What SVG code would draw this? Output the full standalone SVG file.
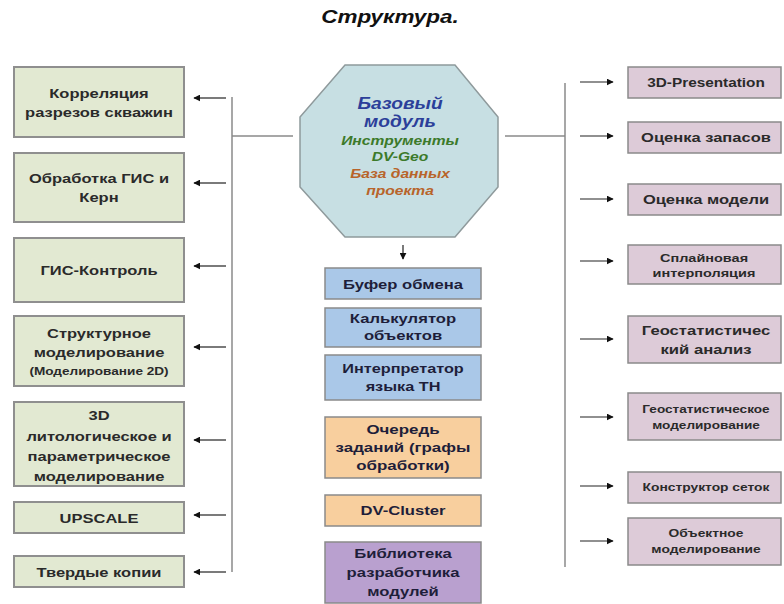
<svg xmlns="http://www.w3.org/2000/svg" width="784" height="604" viewBox="0 0 784 604">
<defs>
<marker id="ah" viewBox="0 0 10 10" refX="9" refY="5" markerWidth="7" markerHeight="7" orient="auto" markerUnits="userSpaceOnUse">
<path d="M0,0 L10,5 L0,10 z" fill="#111"/>
</marker>
<style>
text{font-family:"Liberation Sans",Arial,sans-serif;font-weight:bold;text-anchor:middle;fill:#2a2a2a}
.g rect{fill:#e2e9d2;stroke:#8f8f8f;stroke-width:2}
.b rect{fill:#aac8e8;stroke:#8a8a8a;stroke-width:1.5}
.o rect{fill:#f8cf9e;stroke:#8a8a8a;stroke-width:1.5}
.p rect{fill:#b9a0cf;stroke:#8a8a8a;stroke-width:1.5}
.r rect{fill:#ddcbd8;stroke:#8a8a8a;stroke-width:1.5}
.ln{stroke:#8a8a8a;stroke-width:1.5;fill:none}
.ar{stroke:#222;stroke-width:1.2;fill:none;marker-end:url(#ah)}
.l{font-size:13px}
.m{font-size:13px;fill:#1e1e3a}
.rs{font-size:13px}
.rx{font-size:10px}
.bi{font-style:italic}
</style>
</defs>
<rect width="784" height="604" fill="#fff"/>
<g transform="translate(390 0) scale(1.25 1)"><text class="bi" x="0" y="23" style="font-size:18px;fill:#111">Структура.</text></g>

<g id="left1" class="g"><rect x="14" y="67" width="170" height="70"/><g transform="translate(99 0) scale(1.27 1)"><text class="l" x="0" y="98">Корреляция</text><text class="l" x="0" y="117">разрезов скважин</text></g></g>
<g id="left2" class="g"><rect x="14" y="153" width="170" height="69"/><g transform="translate(99 0) scale(1.27 1)"><text class="l" x="0" y="183">Обработка ГИС и</text><text class="l" x="0" y="202">Керн</text></g></g>
<g id="left3" class="g"><rect x="14" y="238" width="170" height="64"/><g transform="translate(99 0) scale(1.27 1)"><text class="l" x="0" y="275">ГИС-Контроль</text></g></g>
<g id="left4" class="g"><rect x="14" y="316" width="170" height="70"/><g transform="translate(99 0) scale(1.27 1)"><text class="l" x="0" y="338">Структурное</text><text class="l" x="0" y="357">моделирование</text></g><g transform="translate(99 0) scale(1.36 1)"><text class="rx" x="0" y="375">(Моделирование 2D)</text></g></g>
<g id="left5" class="g"><rect x="14" y="402" width="170" height="84"/><g transform="translate(99 0) scale(1.27 1)"><text class="l" x="0" y="420">3D</text><text class="l" x="0" y="441">литологическое и</text><text class="l" x="0" y="461">параметрическое</text><text class="l" x="0" y="481">моделирование</text></g></g>
<g id="left6" class="g"><rect x="14" y="502" width="170" height="31"/><g transform="translate(99 0) scale(1.27 1)"><text class="l" x="0" y="523">UPSCALE</text></g></g>
<g id="left7" class="g"><rect x="14" y="556" width="170" height="31"/><g transform="translate(99 0) scale(1.27 1)"><text class="l" x="0" y="577">Твердые копии</text></g></g>

<g id="core">
<polygon points="345,65 455,65 498,117 498,187 455,237 345,237 300,187 300,117" fill="#c7dfe3" stroke="#8f9a9c" stroke-width="1.5"/>
<g transform="translate(400 0) scale(1.2 1)">
<text class="bi" x="0" y="109" style="font-size:16px;fill:#2c3f9a">Базовый</text>
<text class="bi" x="0" y="127" style="font-size:16px;fill:#2c3f9a">модуль</text>
<text class="bi" x="0" y="145" style="font-size:13px;fill:#3c7a2a">Инструменты</text>
<text class="bi" x="0" y="161" style="font-size:13px;fill:#3c7a2a">DV-Geo</text>
<text class="bi" x="0" y="178" style="font-size:13px;fill:#b8642a">База данных</text>
<text class="bi" x="0" y="195" style="font-size:13px;fill:#b8642a">проекта</text>
</g>
</g>

<g id="mid1" class="b"><rect x="325" y="268" width="156" height="31"/><g transform="translate(403 0) scale(1.28 1)"><text class="m" x="0" y="289">Буфер обмена</text></g></g>
<g id="mid2" class="b"><rect x="325" y="308" width="156" height="39"/><g transform="translate(403 0) scale(1.28 1)"><text class="m" x="0" y="323">Калькулятор</text><text class="m" x="0" y="340">объектов</text></g></g>
<g id="mid3" class="b"><rect x="325" y="355" width="156" height="45"/><g transform="translate(403 0) scale(1.25 1)"><text class="m" x="0" y="373">Интерпретатор</text><text class="m" x="0" y="391">языка TH</text></g></g>
<g id="mid4" class="o"><rect x="325" y="417" width="156" height="61"/><g transform="translate(403 0) scale(1.3 1)"><text class="m" x="0" y="434">Очередь</text><text class="m" x="0" y="452">заданий (графы</text><text class="m" x="0" y="470">обработки)</text></g></g>
<g id="mid5" class="o"><rect x="325" y="495" width="156" height="31"/><g transform="translate(403 0) scale(1.28 1)"><text class="m" x="0" y="515">DV-Cluster</text></g></g>
<g id="mid6" class="p"><rect x="325" y="542" width="156" height="61"/><g transform="translate(403 0) scale(1.28 1)"><text class="m" x="0" y="558">Библиотека</text><text class="m" x="0" y="577">разработчика</text><text class="m" x="0" y="596">модулей</text></g></g>

<g id="right1" class="r"><rect x="628" y="67" width="153" height="31"/><g transform="translate(706 0) scale(1.18 1)"><text class="rs" x="0" y="87">3D-Presentation</text></g></g>
<g id="right2" class="r"><rect x="628" y="122" width="153" height="31"/><g transform="translate(706 0) scale(1.27 1)"><text class="rs" x="0" y="142">Оценка запасов</text></g></g>
<g id="right3" class="r"><rect x="628" y="184" width="153" height="31"/><g transform="translate(706 0) scale(1.27 1)"><text class="rs" x="0" y="204">Оценка модели</text></g></g>
<g id="right4" class="r"><rect x="628" y="245" width="153" height="39"/><g transform="translate(704 0) scale(1.45 1)"><text class="rx" x="0" y="262">Сплайновая</text><text class="rx" x="0" y="277">интерполяция</text></g></g>
<g id="right5" class="r"><rect x="628" y="316" width="153" height="47"/><g transform="translate(706 0) scale(1.28 1)"><text class="rs" x="0" y="335">Геостатистичес</text><text class="rs" x="0" y="354">кий анализ</text></g></g>
<g id="right6" class="r"><rect x="628" y="393" width="153" height="47"/><g transform="translate(706 0) scale(1.36 1)"><text class="rx" x="0" y="413">Геостатистическое</text><text class="rx" x="0" y="429">моделирование</text></g></g>
<g id="right7" class="r"><rect x="628" y="472" width="153" height="31"/><g transform="translate(706 0) scale(1.38 1)"><text class="rx" x="0" y="491">Конструктор сеток</text></g></g>
<g id="right8" class="r"><rect x="628" y="518" width="153" height="47"/><g transform="translate(706 0) scale(1.38 1)"><text class="rx" x="0" y="537">Объектное</text><text class="rx" x="0" y="553">моделирование</text></g></g>

<g id="connectors">
<path class="ln" d="M232,97 V572 M232,136 H293"/>
<path class="ar" d="M226,98 H194"/>
<path class="ar" d="M226,183 H194"/>
<path class="ar" d="M226,266 H194"/>
<path class="ar" d="M226,347 H194"/>
<path class="ar" d="M226,440 H194"/>
<path class="ar" d="M226,515 H194"/>
<path class="ar" d="M226,572 H194"/>
<path class="ln" d="M565,83 V567 M505,136 H565"/>
<path class="ar" d="M580,82 H613"/>
<path class="ar" d="M580,136 H613"/>
<path class="ar" d="M580,199 H613"/>
<path class="ar" d="M580,261 H613"/>
<path class="ar" d="M580,339 H613"/>
<path class="ar" d="M580,417 H613"/>
<path class="ar" d="M580,486 H613"/>
<path class="ar" d="M580,541 H613"/>
<path class="ar" d="M403,245 V259"/>
</g>
</svg>
